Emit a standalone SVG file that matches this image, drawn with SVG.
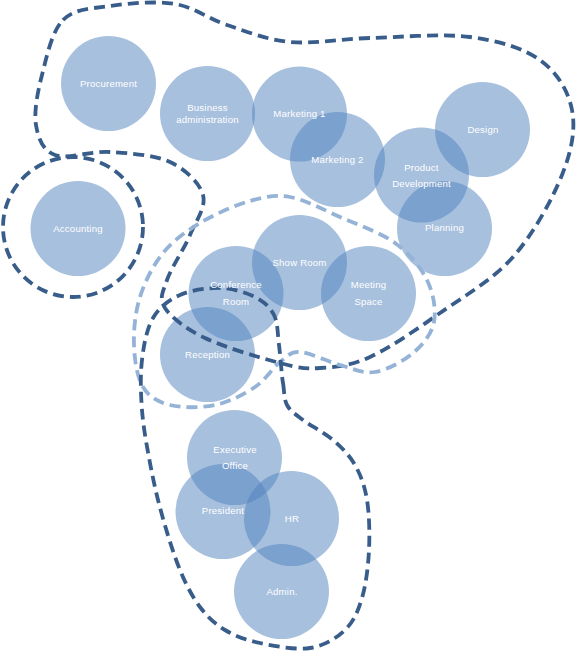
<svg xmlns="http://www.w3.org/2000/svg" width="576" height="653" viewBox="0 0 576 653">
<style>
.n circle{fill:#4F81BD;fill-opacity:0.5}
.lb text{fill:#fff;font-family:"Liberation Sans",Arial,sans-serif;font-size:9.6px;text-anchor:middle;letter-spacing:0.2px}
.dk{fill:none;stroke:#385D8A;stroke-width:3.8;stroke-dasharray:11 6}
.lt{fill:none;stroke:#95B3D7;stroke-width:3.8;stroke-dasharray:11 6}
</style>
<rect width="576" height="653" fill="#fff"/>
<g id="procurement" class="n"><circle cx="108.5" cy="83.5" r="47.5"/></g>
<g id="business-administration" class="n"><circle cx="207.5" cy="113.5" r="47.5"/></g>
<g id="marketing-1" class="n"><circle cx="299.5" cy="114" r="47.5"/></g>
<g id="marketing-2" class="n"><circle cx="337.5" cy="159.5" r="47.5"/></g>
<g id="product-development" class="n"><circle cx="421.5" cy="175" r="47.5"/></g>
<g id="design" class="n"><circle cx="482.5" cy="129.5" r="47.5"/></g>
<g id="planning" class="n"><circle cx="444.5" cy="228.5" r="47.5"/></g>
<g id="accounting" class="n"><circle cx="78" cy="228.5" r="47.5"/></g>
<g id="show-room" class="n"><circle cx="299.5" cy="262.5" r="47.5"/></g>
<g id="conference-room" class="n"><circle cx="236" cy="293.5" r="47.5"/></g>
<g id="meeting-space" class="n"><circle cx="368.5" cy="293.5" r="47.5"/></g>
<g id="reception" class="n"><circle cx="207.5" cy="354.5" r="47.5"/></g>
<g id="executive-office" class="n"><circle cx="234.5" cy="457.5" r="47.5"/></g>
<g id="president" class="n"><circle cx="223" cy="511.5" r="47.5"/></g>
<g id="hr" class="n"><circle cx="291.5" cy="518.5" r="47.5"/></g>
<g id="admin" class="n"><circle cx="281.5" cy="591.5" r="47.5"/></g>
<g id="connectors">
<path class="dk" d="M63,20 C74.3,8.5 91.3,8.7 110,6 C128.7,3.3 155.5,0.8 175,4 C194.5,7.2 207.8,18.7 227,25 C246.2,31.3 266.2,39.8 290,42 C313.8,44.2 340,38.8 370,38 C400,37.2 441.7,33.3 470,37 C498.3,40.7 523,47.8 540,60 C557,72.2 568.3,90.8 572,110 C575.7,129.2 571.8,150.5 562,175 C552.2,199.5 533.3,234 513,257 C492.7,280 463.8,296.3 440,313 C416.2,329.7 390,347.8 370,357 C350,366.2 335,367 320,368 C305,369 299.2,368 280,363 C260.8,358 224.2,347.2 205,338 C185.8,328.8 171.3,317.7 165,308 C158.7,298.3 162.8,292.2 167,280 C171.2,267.8 184,249.2 190,235 C196,220.8 206.3,207.2 203,195 C199.7,182.8 185.5,169.2 170,162 C154.5,154.8 129.2,153.2 110,152 C90.8,150.8 67.3,159.5 55,155 C42.7,150.5 38.2,138.3 36,125 C33.8,111.7 37.5,92.5 42,75 C46.5,57.5 51.7,31.5 63,20 Z"/>
<circle class="dk" cx="73" cy="227" r="70"/>
<path class="lt" d="M140,297 C144.8,281.7 153,265.3 163,253 C173,240.7 185.5,231.7 200,223 C214.5,214.3 235,205.3 250,201 C265,196.7 275,194.3 290,197 C305,199.7 322.5,209.3 340,217 C357.5,224.7 380.5,232.5 395,243 C409.5,253.5 420.5,266.8 427,280 C433.5,293.2 436.3,309.8 434,322 C431.7,334.2 422.8,344.7 413,353 C403.2,361.3 387.2,370 375,372 C362.8,374 352.5,368.3 340,365 C327.5,361.7 310,352.5 300,352 C290,351.5 287.5,356.2 280,362 C272.5,367.8 265.8,379.8 255,387 C244.2,394.2 229.2,402 215,405 C200.8,408 182,408 170,405 C158,402 149,397 143,387 C137,377 134.5,360 134,345 C133.5,330 135.2,312.3 140,297 Z"/>
<path class="dk" d="M283,383 C284.3,389.3 283.7,398.8 287,405 C290.3,411.2 295.3,414.2 303,420 C310.7,425.8 324.3,432.5 333,440 C341.7,447.5 349.3,455 355,465 C360.7,475 364.7,485.8 367,500 C369.3,514.2 369.8,533.7 369,550 C368.2,566.3 366,584.7 362,598 C358,611.3 353.7,621.7 345,630 C336.3,638.3 324.2,645.8 310,648 C295.8,650.2 274.2,646 260,643 C245.8,640 235,636 225,630 C215,624 207.5,617 200,607 C192.5,597 186.3,585.3 180,570 C173.7,554.7 167,532.8 162,515 C157,497.2 153.3,480.5 150,463 C146.7,445.5 143.3,427.2 142,410 C140.7,392.8 140.2,375.3 142,360 C143.8,344.7 146.7,328.8 153,318 C159.3,307.2 168.8,300 180,295 C191.2,290 207.5,287.7 220,288 C232.5,288.3 246,292.5 255,297 C264,301.5 270,307 274,315 C278,323 277.5,333.7 279,345 C280.5,356.3 281.7,376.7 283,383 Z"/>
</g>
<g id="labels" class="lb">
<text x="108.5" y="86.5">Procurement</text>
<text x="207.5" y="110.5">Business</text><text x="207.5" y="122.5">administration</text>
<text x="299.5" y="116.5">Marketing 1</text>
<text x="337.5" y="162.5">Marketing 2</text>
<text x="421.5" y="170.5">Product</text><text x="421.5" y="186.5">Development</text>
<text x="483" y="132.5">Design</text>
<text x="444.5" y="231">Planning</text>
<text x="78" y="231.5">Accounting</text>
<text x="299.5" y="266">Show Room</text>
<text x="236" y="288">Conference</text><text x="236" y="304.5">Room</text>
<text x="368.5" y="288">Meeting</text><text x="368.5" y="305">Space</text>
<text x="207.5" y="358">Reception</text>
<text x="235" y="453">Executive</text><text x="235" y="469">Office</text>
<text x="223" y="513.5">President</text>
<text x="292" y="521.5">HR</text>
<text x="282" y="594.5">Admin.</text>
</g>
</svg>
